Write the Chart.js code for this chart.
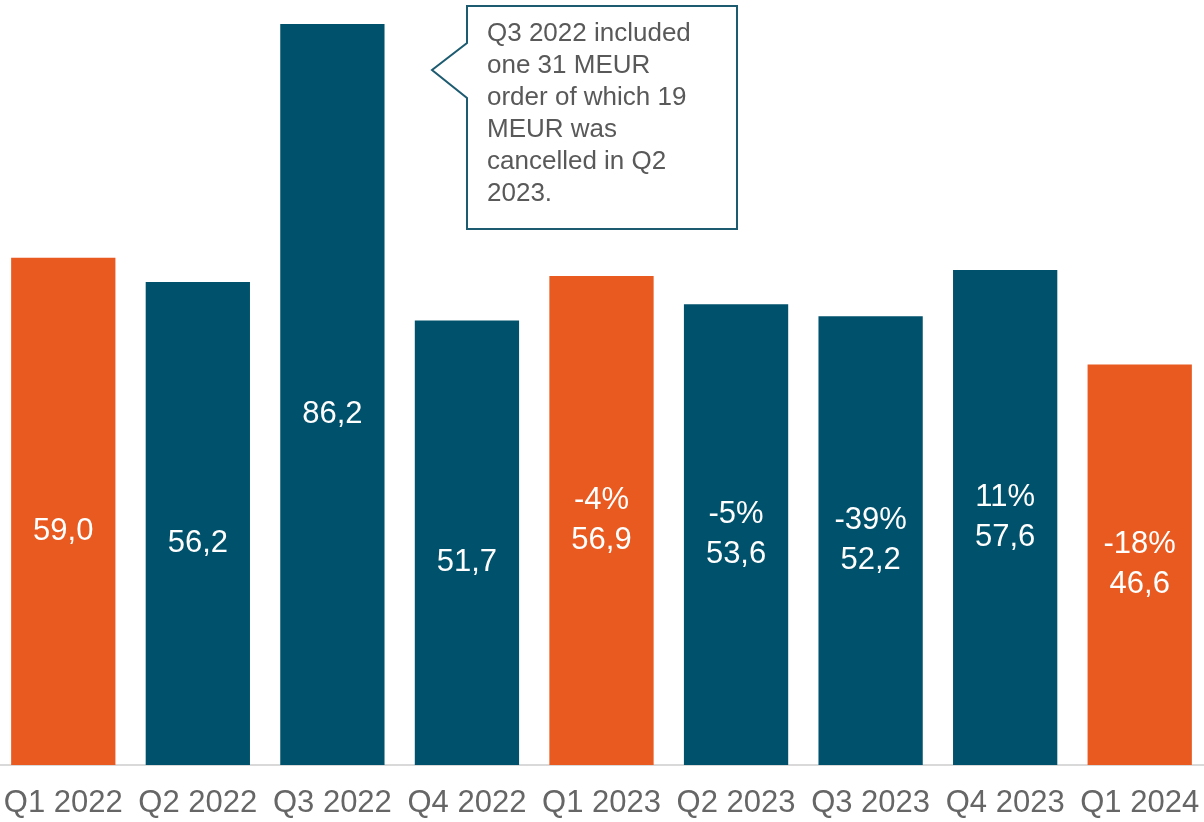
<!DOCTYPE html>
<html>
<head>
<meta charset="utf-8">
<script src="https://cdn.jsdelivr.net/npm/chart.js@4"></script>
<style>
  html, body { margin: 0; padding: 0; background: #fff; overflow: hidden; }
  #wrap { width: 1211px; height: 822px; position: relative; margin-left: -4px; }
</style>
</head>
<body>
<div id="wrap"><canvas id="myChart"></canvas></div>
<script>
const quarters = ['Q1 2022', 'Q2 2022', 'Q3 2022', 'Q4 2022', 'Q1 2023', 'Q2 2023', 'Q3 2023', 'Q4 2023', 'Q1 2024'];
const orderIntake = [59.0, 56.2, 86.2, 51.7, 56.9, 53.6, 52.2, 57.6, 46.6];
const yoyChange = ['', '', '', '', '-4%', '-5%', '-39%', '11%', '-18%'];
const isQ1 = [true, false, false, false, true, false, false, false, true];
const noteLines = ['Q3 2022 included', 'one 31 MEUR', 'order of which 19', 'MEUR was', 'cancelled in Q2', '2023.'];

const orange = '#E95A20';
const teal = '#00526C';

// white value labels inside bars, change % on the line above
const barLabels = {
  id: 'barLabels',
  afterDatasetsDraw(chart) {
    const ctx = chart.ctx;
    const meta = chart.getDatasetMeta(0);
    ctx.save();
    ctx.fillStyle = '#fff';
    ctx.font = '31px "Liberation Sans", Arial, sans-serif';
    ctx.textAlign = 'center';
    ctx.textBaseline = 'middle';
    meta.data.forEach((bar, i) => {
      const mid = (bar.y + bar.base) / 2;
      if (yoyChange[i]) ctx.fillText(yoyChange[i], bar.x, mid - 20);
      ctx.fillText(orderIntake[i].toFixed(1).replace('.', ','), bar.x, mid + 20);
    });
    ctx.restore();
  }
};

// callout box next to Q3 2022 (canvas is shifted 4px left of the page)
const callout = {
  id: 'callout',
  afterDraw(chart) {
    const ctx = chart.ctx;
    const dx = 4;
    const l = 467 + dx, t = 6, r = 737 + dx, b = 229;
    ctx.save();
    ctx.beginPath();
    ctx.moveTo(l, t);
    ctx.lineTo(r, t);
    ctx.lineTo(r, b);
    ctx.lineTo(l, b);
    ctx.lineTo(l, 98);
    ctx.lineTo(432 + dx, 70);
    ctx.lineTo(l, 43);
    ctx.closePath();
    ctx.fillStyle = '#fff';
    ctx.fill();
    ctx.strokeStyle = '#1D5B70';
    ctx.lineWidth = 2;
    ctx.stroke();
    ctx.fillStyle = '#595959';
    ctx.font = '26px "Liberation Sans", Arial, sans-serif';
    ctx.textAlign = 'left';
    ctx.textBaseline = 'middle';
    noteLines.forEach((line, i) => ctx.fillText(line, 487 + dx, 34 + i * 32));
    ctx.restore();
  }
};

const myChart = new Chart(document.getElementById('myChart'), {
  type: 'bar',
  data: {
    labels: quarters,
    datasets: [{
      data: orderIntake,
      backgroundColor: isQ1.map(q => q ? orange : teal),
      barPercentage: 0.775,
      categoryPercentage: 1
    }]
  },
  options: {
    responsive: true,
    maintainAspectRatio: false,
    animation: false,
    layout: { padding: 0 },
    plugins: { legend: { display: false }, tooltip: { enabled: false } },
    scales: {
      x: {
        grid: { display: false, drawTicks: false },
        border: { color: '#D9D9D9', width: 2 },
        ticks: {
          color: '#666666',
          padding: 20,
          maxRotation: 0,
          font: { family: '"Liberation Sans", Arial, sans-serif', size: 31 }
        },
        afterFit(scale) {
          scale.paddingLeft = 0;
          scale.paddingRight = 0;
          scale.height = 57;
        }
      },
      y: {
        display: false,
        min: 0,
        max: 89
      }
    }
  },
  plugins: [barLabels, callout]
});
</script>
</body>
</html>
